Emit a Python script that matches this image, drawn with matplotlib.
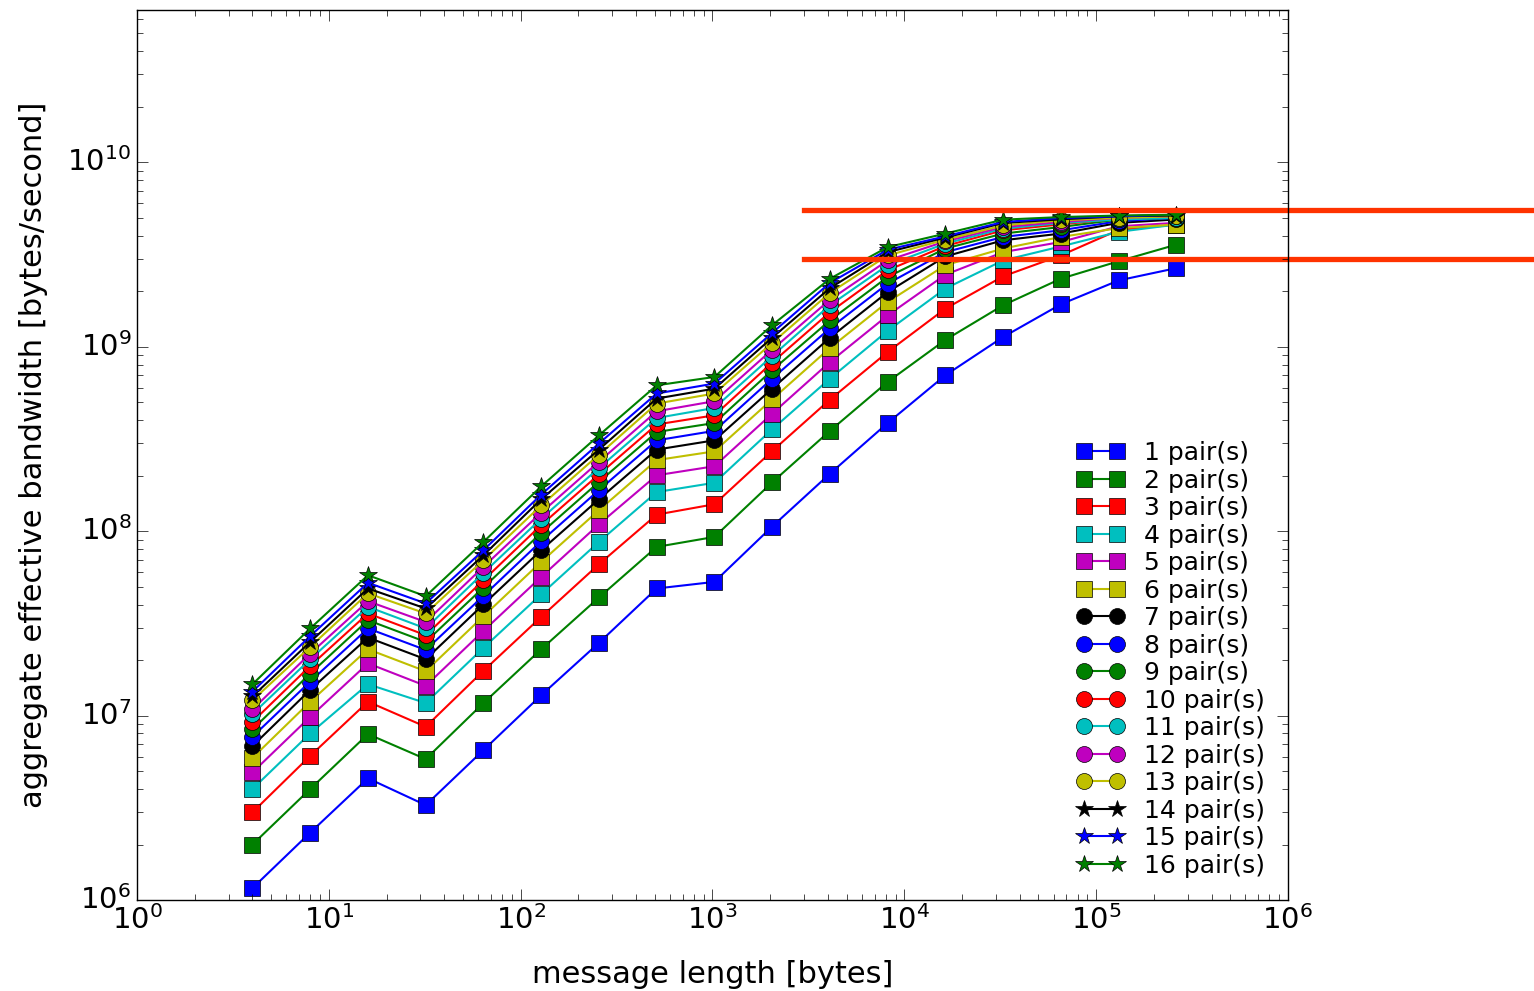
import numpy as np
import matplotlib
matplotlib.use("Agg")
import matplotlib.pyplot as plt

# message lengths in bytes
msg_len = [4, 8, 16, 32, 64, 128, 256, 512, 1024, 2048, 4096, 8192,
           16384, 32768, 65536, 131072, 262144]

# aggregate bandwidth [bytes/s], one row per number of pairs
bandwidth = [
    [1.16e6, 2.32e6, 4.57e6, 3.27e6, 6.50e6, 1.29e7, 2.48e7, 4.89e7, 5.31e7, 1.06e8, 2.05e8, 3.86e8, 7.01e8, 1.13e9, 1.70e9, 2.29e9, 2.67e9],
    [2.00e6, 4.00e6, 7.94e6, 5.81e6, 1.17e7, 2.29e7, 4.37e7, 8.22e7, 9.31e7, 1.84e8, 3.50e8, 6.45e8, 1.09e9, 1.68e9, 2.34e9, 2.91e9, 3.58e9],
    [2.99e6, 6.05e6, 1.19e7, 8.70e6, 1.75e7, 3.43e7, 6.62e7, 1.23e8, 1.40e8, 2.72e8, 5.17e8, 9.37e8, 1.61e9, 2.41e9, 3.13e9, 4.30e9, 4.60e9],
    [4.00e6, 8.01e6, 1.48e7, 1.17e7, 2.33e7, 4.55e7, 8.75e7, 1.63e8, 1.83e8, 3.57e8, 6.72e8, 1.22e9, 2.07e9, 2.94e9, 3.50e9, 4.20e9, 4.60e9],
    [4.92e6, 9.85e6, 1.92e7, 1.45e7, 2.88e7, 5.65e7, 1.09e8, 2.01e8, 2.25e8, 4.34e8, 8.27e8, 1.48e9, 2.46e9, 3.26e9, 3.70e9, 4.50e9, 4.70e9],
    [5.90e6, 1.19e7, 2.29e7, 1.74e7, 3.46e7, 6.82e7, 1.30e8, 2.43e8, 2.71e8, 5.19e8, 9.85e8, 1.75e9, 2.77e9, 3.41e9, 3.94e9, 4.40e9, 4.60e9],
    [6.84e6, 1.38e7, 2.65e7, 2.02e7, 4.01e7, 7.89e7, 1.49e8, 2.77e8, 3.11e8, 5.93e8, 1.12e9, 1.98e9, 3.09e9, 3.78e9, 4.11e9, 4.70e9, 4.90e9],
    [7.68e6, 1.53e7, 2.97e7, 2.27e7, 4.46e7, 8.83e7, 1.67e8, 3.11e8, 3.50e8, 6.72e8, 1.26e9, 2.20e9, 3.26e9, 3.94e9, 4.28e9, 4.80e9, 5.00e9],
    [8.42e6, 1.69e7, 3.29e7, 2.51e7, 4.95e7, 9.79e7, 1.85e8, 3.45e8, 3.86e8, 7.46e8, 1.39e9, 2.39e9, 3.41e9, 4.11e9, 4.46e9, 4.90e9, 5.00e9],
    [9.25e6, 1.86e7, 3.58e7, 2.73e7, 5.42e7, 1.08e8, 2.03e8, 3.79e8, 4.25e8, 8.21e8, 1.54e9, 2.60e9, 3.52e9, 4.28e9, 4.61e9, 4.95e9, 5.05e9],
    [1.02e7, 2.02e7, 3.89e7, 2.97e7, 5.94e7, 1.17e8, 2.20e8, 4.11e8, 4.66e8, 8.91e8, 1.68e9, 2.77e9, 3.63e9, 4.37e9, 4.69e9, 4.90e9, 5.00e9],
    [1.08e7, 2.17e7, 4.17e7, 3.22e7, 6.41e7, 1.26e8, 2.38e8, 4.47e8, 5.07e8, 9.65e8, 1.80e9, 2.94e9, 3.73e9, 4.46e9, 4.75e9, 5.00e9, 5.10e9],
    [1.21e7, 2.36e7, 4.60e7, 3.58e7, 6.96e7, 1.38e8, 2.60e8, 4.92e8, 5.58e8, 1.05e9, 1.96e9, 3.13e9, 3.81e9, 4.55e9, 4.85e9, 5.00e9, 5.10e9],
    [1.27e7, 2.51e7, 4.89e7, 3.81e7, 7.41e7, 1.49e8, 2.77e8, 5.24e8, 5.93e8, 1.12e9, 2.08e9, 3.26e9, 3.91e9, 4.69e9, 4.91e9, 5.10e9, 5.15e9],
    [1.35e7, 2.70e7, 5.25e7, 4.06e7, 7.89e7, 1.58e8, 2.99e8, 5.58e8, 6.32e8, 1.19e9, 2.22e9, 3.36e9, 3.97e9, 4.75e9, 4.99e9, 5.10e9, 5.20e9],
    [1.48e7, 2.97e7, 5.77e7, 4.44e7, 8.75e7, 1.75e8, 3.31e8, 6.18e8, 6.86e8, 1.31e9, 2.34e9, 3.47e9, 4.11e9, 4.89e9, 5.05e9, 5.15e9, 5.20e9],
]
labels = ["%d pair(s)" % (i + 1) for i in range(16)]

# reference levels marked on the plot
ref_levels = [5.5e9, 3.0e9]
ref_start = 3000

colors = ['b', 'g', 'r', 'c', 'm', 'y', 'k']
markers = ['s'] * 6 + ['o'] * 7 + ['*'] * 3

plt.style.use('classic')
fig = plt.figure(figsize=(15.34, 9.91), dpi=100)
ax = fig.add_axes([0.0893, 0.0918, 0.7503, 0.8981])

for i, row in enumerate(bandwidth):
	ms = 13 if markers[i] == '*' else 11.5
	ax.plot(msg_len, row, color=colors[i % 7], marker=markers[i], markersize=ms,
		linewidth=1.5, markeredgecolor='k', label=labels[i])

for lvl in ref_levels:
	ax.plot([ref_start, 3e7], [lvl, lvl], color='#ff3300', linewidth=3.8, clip_on=False)

ax.set_xscale('log')
ax.set_yscale('log')
ax.set_xlim(1, 1e6)
ax.set_ylim(1e6, 6.7e10)
ax.tick_params(labelsize=21, which='both')
ax.tick_params(which='major', length=8)
ax.tick_params(which='minor', length=4)
ax.set_xlabel('message length [bytes]', fontsize=22, labelpad=18)
ax.set_ylabel('aggregate effective bandwidth [bytes/second]', fontsize=22, labelpad=14)

ax.legend(loc='lower right', frameon=False, fontsize=18, numpoints=2,
	labelspacing=0.14, borderaxespad=0.5, handlelength=1.9)

fig.savefig('out.png', dpi=100)
